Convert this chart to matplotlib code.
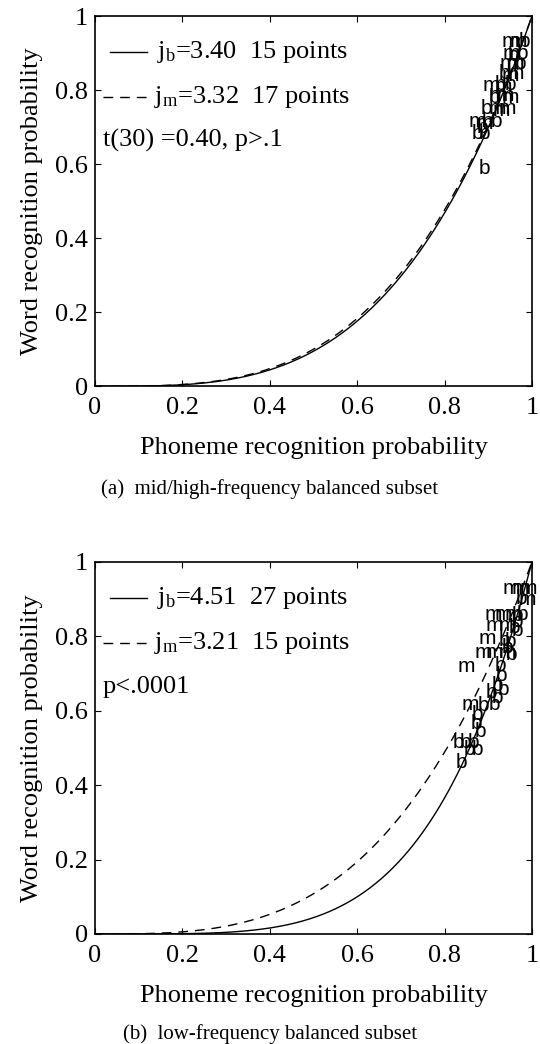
import numpy as np
import matplotlib
matplotlib.use("Agg")
import matplotlib.pyplot as plt

plt.rcParams['font.family'] = ['Liberation Serif', 'DejaVu Serif']
plt.rcParams['mathtext.fontset'] = 'custom'
plt.rcParams['mathtext.rm'] = 'Liberation Serif'
plt.rcParams['mathtext.it'] = 'Liberation Serif:italic'

# fitted exponents j (word prob = phoneme prob ** j)
j_a = {'b': 3.40, 'm': 3.32}
j_b = {'b': 4.51, 'm': 3.21}
npts_a = {'b': 15, 'm': 17}
npts_b = {'b': 27, 'm': 15}

# (a) mid/high-frequency subset: phoneme prob, word prob
a_b_x = [0.984, 0.957, 0.979, 0.973, 0.938, 0.927, 0.950, 0.915, 0.897, 0.899,
         0.918, 0.876, 0.892, 0.886, 0.892]
a_b_y = [0.932, 0.895, 0.900, 0.873, 0.846, 0.816, 0.816, 0.781, 0.751, 0.716,
         0.716, 0.684, 0.684, 0.700, 0.589]
a_m_x = [0.950, 0.968, 0.954, 0.945, 0.963, 0.961, 0.950, 0.920, 0.938, 0.950,
         0.920, 0.943, 0.931, 0.876, 0.890, 0.908, 0.934]
a_m_y = [0.932, 0.932, 0.900, 0.873, 0.873, 0.846, 0.841, 0.786, 0.786, 0.781,
         0.751, 0.751, 0.746, 0.716, 0.711, 0.814, 0.811]

# (b) low-frequency subset
b_b_x = [0.977, 0.968, 0.979, 0.961, 0.968, 0.938, 0.950, 0.954, 0.927, 0.931,
         0.920, 0.934, 0.920, 0.915, 0.888, 0.876, 0.872, 0.883, 0.831, 0.849,
         0.867, 0.858, 0.876, 0.838, 0.966, 0.945, 0.908]
b_b_y = [0.903, 0.855, 0.860, 0.823, 0.817, 0.790, 0.785, 0.750, 0.723, 0.696,
         0.669, 0.656, 0.637, 0.616, 0.613, 0.589, 0.567, 0.543, 0.516, 0.516,
         0.516, 0.495, 0.495, 0.462, 0.839, 0.769, 0.648]
b_m_x = [0.954, 0.973, 0.991, 0.989, 0.911, 0.934, 0.957, 0.915, 0.943, 0.897,
         0.888, 0.915, 0.943, 0.851, 0.858]
b_m_y = [0.930, 0.930, 0.930, 0.898, 0.860, 0.860, 0.860, 0.828, 0.828, 0.793,
         0.758, 0.758, 0.758, 0.720, 0.616]

ticks = [0, 0.2, 0.4, 0.6, 0.8, 1]
tick_labels = ['0', '0.2', '0.4', '0.6', '0.8', '1']

FS = 19


def draw_panel(ax, j, npts, bx, by, mx, my, stat_text):
    x = np.linspace(0, 1, 300)
    ax.plot(x, x ** j['b'], color='k', lw=1.0)
    ax.plot(x, x ** j['m'], color='k', lw=1.0, dashes=(7, 5))
    for xi, yi in zip(bx, by):
        ax.text(xi, yi, 'b', fontsize=15, family='Liberation Sans',
                ha='center', va='center')
    for xi, yi in zip(mx, my):
        ax.text(xi, yi, 'm', fontsize=15, family='Liberation Sans',
                ha='center', va='center')

    # hand-made legend like the matlab one
    ax.plot([0.034, 0.119], [0.903, 0.903], color='k', lw=1.0)
    ax.plot([0.018, 0.13], [0.781, 0.781], color='k', lw=1.0, dashes=(7, 5))
    ax.text(0.142, 0.903, r'j$_\mathrm{b}$=%.2f  %d points' % (j['b'], npts['b']),
            fontsize=FS, va='center', ha='left')
    ax.text(0.135, 0.781, r'j$_\mathrm{m}$=%.2f  %d points' % (j['m'], npts['m']),
            fontsize=FS, va='center', ha='left')
    ax.text(0.018, 0.665, stat_text, fontsize=FS, va='center', ha='left')

    ax.set_xlim(0, 1)
    ax.set_ylim(0, 1)
    ax.set_xticks(ticks)
    ax.set_xticklabels(tick_labels)
    ax.set_yticks(ticks)
    ax.set_yticklabels(tick_labels)
    ax.tick_params(direction='in', length=4, width=0.8, top=True, right=True,
                   labelsize=FS)
    ax.tick_params(axis='x', pad=8)
    ax.tick_params(axis='y', pad=5)
    for sp in ax.spines.values():
        sp.set_linewidth(1.2)
    ax.text(0.5, -0.168, 'Phoneme recognition probability', fontsize=FS,
            transform=ax.transAxes, ha='center', va='center')
    ax.text(-0.145, 0.5, 'Word recognition probability', fontsize=FS,
            transform=ax.transAxes, ha='center', va='center', rotation=90)


fig = plt.figure(figsize=(5.4, 10.44), dpi=100)
ax1 = fig.add_axes([0.176, 0.630, 0.809, 0.3544])
ax2 = fig.add_axes([0.176, 0.1054, 0.809, 0.3563])

draw_panel(ax1, j_a, npts_a, a_b_x, a_b_y, a_m_x, a_m_y, 't(30) =0.40, p>.1')
draw_panel(ax2, j_b, npts_b, b_b_x, b_b_y, b_m_x, b_m_y, 'p<.0001')

fig.text(0.5, 0.532, '(a)  mid/high-frequency balanced subset', fontsize=15,
         ha='center', va='center')
fig.text(0.5, 0.0095, '(b)  low-frequency balanced subset', fontsize=15,
         ha='center', va='center')

fig.savefig('out.png', dpi=100)
